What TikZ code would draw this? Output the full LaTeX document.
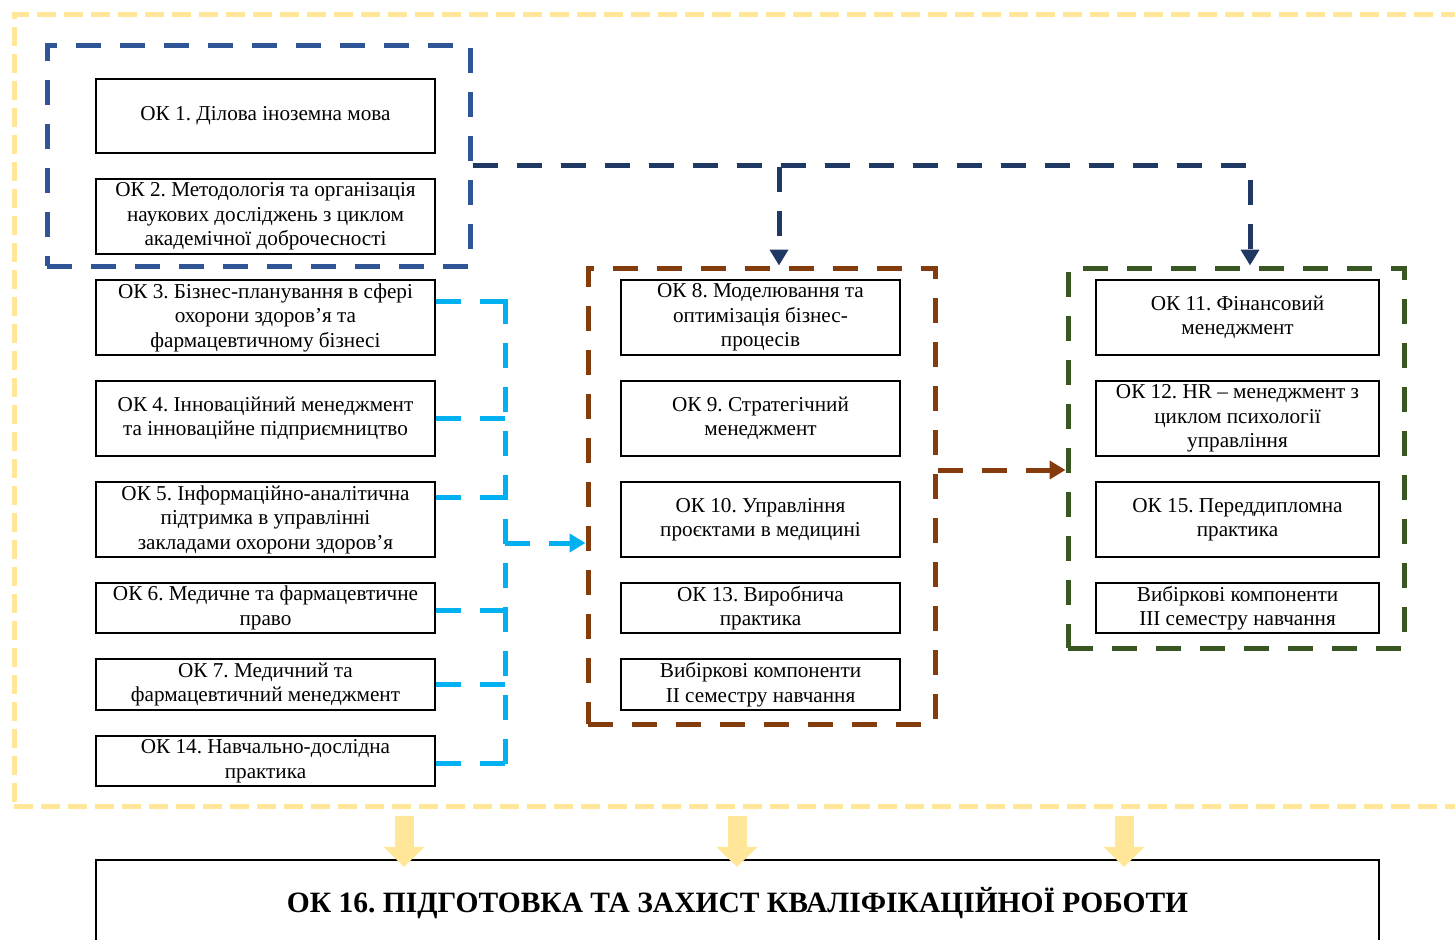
\documentclass[tikz,border=0pt]{standalone}
\usepackage{fontspec}
\setmainfont{Liberation Serif}
\frenchspacing
\usetikzlibrary{arrows.meta}
\definecolor{framey}{HTML}{FFE699}
\definecolor{grpblue}{HTML}{2F5597}
\definecolor{arrnavy}{HTML}{203864}
\definecolor{grpbrown}{HTML}{843C0C}
\definecolor{grpgreen}{HTML}{385723}
\definecolor{buscyan}{HTML}{00B0F0}
\tikzset{
  okbox/.style={draw, line width=2.2pt, inner sep=0pt, align=center,
    font=\fontsize{21.2}{24.5}\selectfont},
  leftbox/.style={okbox, minimum width=339pt},
  midbox/.style={okbox, minimum width=279pt},
  rightbox/.style={okbox, minimum width=283pt},
  grpline/.style={line width=5pt, dash pattern=on 25pt off 19pt},
  grpbox/.style={grpline, draw, inner sep=0pt},
  buswire/.style={grpline, buscyan},
  pointer/.style={-{Triangle[width=18pt,length=16pt]}}
}
\begin{document}
\begin{tikzpicture}[x=1pt, y=-1pt]
  \useasboundingbox (0,0) rectangle (1455,939);
  % Outer yellow frame
  \node[draw=framey, line width=5pt, dash pattern=on 19pt off 8pt,
    minimum width=1448pt, minimum height=791pt] (frame) at (738,410.5) {};
  % Groups
  \node[grpbox, draw=grpblue, minimum width=423pt, minimum height=220pt] (grp1) at (258.5,156) {};
  \node[grpbox, draw=grpbrown, minimum width=347pt, minimum height=456pt] (grp2) at (761.5,496) {};
  \node[grpbox, draw=grpgreen, minimum width=336pt, minimum height=380pt] (grp3) at (1236,458) {};
  % Left column
  \node[leftbox, minimum height=74pt] (ok1) at (265.5,116) {ОК 1. Ділова іноземна мова};
  \node[leftbox, minimum height=75pt] (ok2) at (265.5,216.5) {ОК 2. Методологія та організація\\наукових досліджень з циклом\\академічної доброчесності};
  \node[leftbox, minimum height=75pt] (ok3) at (265.5,317.5) {ОК 3. Бізнес-планування в сфері\\охорони здоров’я та\\фармацевтичному бізнесі};
  \node[leftbox, minimum height=75pt] (ok4) at (265.5,418.5) {ОК 4. Інноваційний менеджмент\\та інноваційне підприємництво};
  \node[leftbox, minimum height=75pt] (ok5) at (265.5,519.5) {ОК 5. Інформаційно-аналітична\\підтримка в управлінні\\закладами охорони здоров’я};
  \node[leftbox, minimum height=50pt] (ok6) at (265.5,608) {ОК 6. Медичне та фармацевтичне\\право};
  \node[leftbox, minimum height=51pt] (ok7) at (265.5,684.5) {ОК 7. Медичний та\\фармацевтичний менеджмент};
  \node[leftbox, minimum height=50pt] (ok14) at (265.5,761) {ОК 14. Навчально-дослідна\\практика};
  % Middle column
  \node[midbox, minimum height=75pt] (ok8) at (760.5,317.5) {ОК 8. Моделювання та\\оптимізація бізнес-\\процесів};
  \node[midbox, minimum height=75pt] (ok9) at (760.5,418.5) {ОК 9. Стратегічний\\менеджмент};
  \node[midbox, minimum height=75pt] (ok10) at (760.5,519.5) {ОК 10. Управління\\проєктами в медицині};
  \node[midbox, minimum height=50pt] (ok13) at (760.5,608) {ОК 13. Виробнича\\практика};
  \node[midbox, minimum height=51pt] (vib2) at (760.5,684.5) {Вибіркові компоненти\\II семестру навчання};
  % Right column
  \node[rightbox, minimum height=75pt] (ok11) at (1237.5,317.5) {ОК 11. Фінансовий\\менеджмент};
  \node[rightbox, minimum height=75pt] (ok12) at (1237.5,418.5) {ОК 12. HR – менеджмент з\\циклом психології\\управління};
  \node[rightbox, minimum height=75pt] (ok15) at (1237.5,519.5) {ОК 15. Переддипломна\\практика};
  \node[rightbox, minimum height=50pt] (vib3) at (1237.5,608) {Вибіркові компоненти\\III семестру навчання};
  % Final work
  \node[draw, line width=2.2pt, minimum width=1283pt, minimum height=86pt,
    font=\fontsize{29.5}{32}\selectfont\bfseries] (ok16) at (737.5,903)
    {ОК 16. ПІДГОТОВКА ТА ЗАХИСТ КВАЛІФІКАЦІЙНОЇ РОБОТИ};
  % Navy arrows from first group
  \draw[grpline, arrnavy, pointer] ([yshift=-9pt]grp1.east) -| ([xshift=17.5pt]grp2.north);
  \draw[grpline, arrnavy, pointer] ([yshift=-9pt]grp1.east) -| ([xshift=14pt]grp3.north);
  % Cyan bus into the brown group
  \coordinate (bustop) at (505,299);
  \coordinate (busbot) at (505,765);
  \coordinate (busout) at (505,543);
  \draw[buswire] (bustop) -- (busbot);
  \foreach \n/\dy in {ok3/16,ok4/0,ok5/22,ok6/-2,ok7/0,ok14/-2}{
    \path ([yshift=\dy pt]\n.east) coordinate (s);
    \draw[buswire] (s) -- (s -| bustop);
  }
  \draw[buswire, pointer] (busout) -- (busout -| grp2.west);
  % Brown arrow into the green group
  \coordinate (brout) at ([yshift=26pt]grp2.east);
  \draw[grpline, grpbrown, pointer] (brout) -- (brout -| grp3.west);
  % Yellow arrows to the final work
  \foreach \x in {404,737,1124}
    \draw[framey, line width=19pt, -{Triangle[width=40pt,length=20pt]},
      shorten <=7pt, shorten >=-8pt] (frame.south -| \x,0) -- (ok16.north -| \x,0);
\end{tikzpicture}
\end{document}
